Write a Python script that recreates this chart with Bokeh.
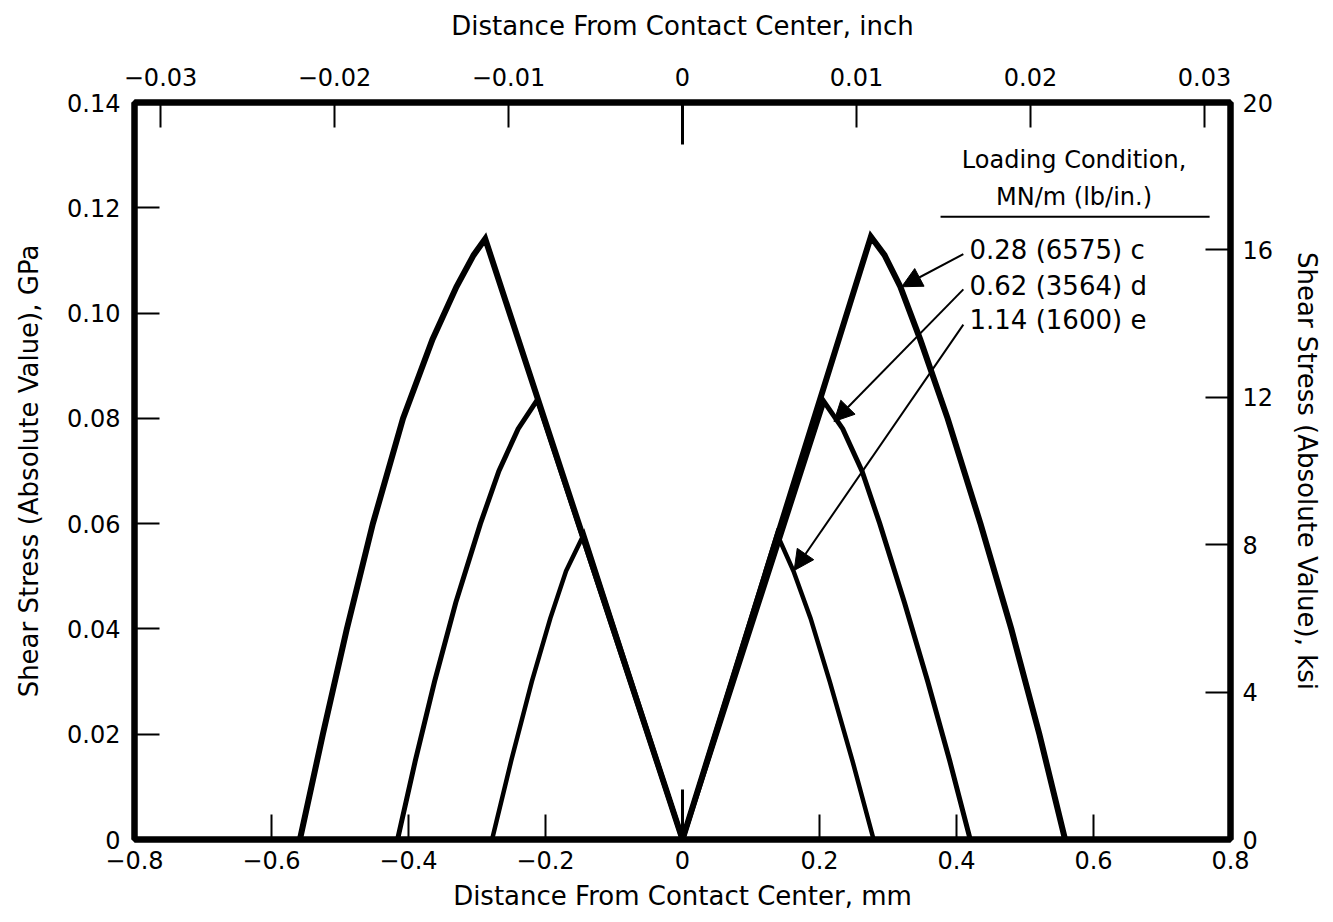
from bokeh.plotting import figure
from bokeh.models import (Range1d, LinearAxis, FixedTicker, Arrow, NormalHead)
from bokeh.core.properties import value
from bokeh.embed import file_html
from bokeh.resources import INLINE

# ---- data (distance in mm, shear stress in GPa) ----
c_x = [-0.5585, -0.525, -0.490, -0.452, -0.408, -0.365, -0.330, -0.305, -0.288, 0.0,
       0.275, 0.295, 0.318, 0.347, 0.387, 0.435, 0.480, 0.521, 0.5585]
c_y = [0.0, 0.020, 0.040, 0.060, 0.080, 0.095, 0.105, 0.111, 0.1141, 0.0,
       0.1145, 0.111, 0.105, 0.095, 0.080, 0.060, 0.040, 0.020, 0.0]

d_x = [-0.416, -0.390, -0.362, -0.331, -0.295, -0.268, -0.240, -0.212, 0.0,
       0.2065, 0.234, 0.262, 0.288, 0.324, 0.358, 0.390, 0.420]
d_y = [0.0, 0.015, 0.030, 0.045, 0.060, 0.070, 0.078, 0.0835, 0.0,
       0.0832, 0.078, 0.070, 0.060, 0.045, 0.030, 0.015, 0.0]

e_x = [-0.278, -0.250, -0.220, -0.193, -0.170, -0.144, 0.0,
       0.138, 0.162, 0.187, 0.215, 0.248, 0.279]
e_y = [0.0, 0.015, 0.030, 0.042, 0.051, 0.058, 0.0,
       0.058, 0.051, 0.042, 0.030, 0.015, 0.0]

series_labels = ["0.28 (6575) c", "0.62 (3564) d", "1.14 (1600) e"]

mm_ticks = [-0.8, -0.6, -0.4, -0.2, 0.0, 0.2, 0.4, 0.6, 0.8]
mm_labels = ["\u22120.8", "\u22120.6", "\u22120.4", "\u22120.2", "0", "0.2", "0.4", "0.6", "0.8"]
gpa_ticks = [0.0, 0.02, 0.04, 0.06, 0.08, 0.10, 0.12, 0.14]
gpa_labels = ["0", "0.02", "0.04", "0.06", "0.08", "0.10", "0.12", "0.14"]
inch_ticks = [-0.03, -0.02, -0.01, 0.0, 0.01, 0.02, 0.03]
inch_labels = ["\u22120.03", "\u22120.02", "\u22120.01", "0", "0.01", "0.02", "0.03"]
ksi_ticks = [0, 4, 8, 12, 16, 20]
ksi_labels = ["0", "4", "8", "12", "16", "20"]

X_MIN, X_MAX = -0.8, 0.8
Y_MIN, Y_MAX = 0.0, 0.14
MM_PER_INCH = 25.4

FONT = "DejaVu Sans"
TICK_FS = "24px"
TITLE_FS = "26px"

p = figure(width=1325, height=918, output_backend="svg", toolbar_location=None,
           x_range=Range1d(X_MIN, X_MAX), y_range=Range1d(Y_MIN, Y_MAX),
           min_border_left=134, min_border_right=91, min_border_top=102,
           min_border_bottom=79, background_fill_color="white",
           border_fill_color="white")
p.grid.visible = False
p.outline_line_color = "black"
p.outline_line_width = 6

p.extra_x_ranges = {"inch": Range1d(X_MIN / MM_PER_INCH, X_MAX / MM_PER_INCH)}
p.extra_y_ranges = {"ksi": Range1d(0, 20)}


def style(ax, ticks, labels, title, standoff, label_standoff):
    ax.ticker = FixedTicker(ticks=ticks)
    ax.major_label_overrides = {t: l for t, l in zip(ticks, labels)}
    ax.axis_label = title
    ax.axis_label_text_font = FONT
    ax.axis_label_text_font_size = TITLE_FS
    ax.axis_label_text_font_style = "normal"
    ax.axis_label_text_color = "black"
    ax.major_label_text_font = FONT
    ax.major_label_text_font_size = TICK_FS
    ax.major_label_text_color = "black"
    ax.major_tick_in = 25
    ax.major_tick_out = 0
    ax.major_tick_line_width = 2
    ax.major_tick_line_color = "black"
    ax.minor_tick_line_color = None
    ax.axis_line_color = "black"
    ax.axis_line_width = 6
    ax.major_label_standoff = standoff
    ax.axis_label_standoff = label_standoff


style(p.xaxis[0], mm_ticks, mm_labels, "Distance From Contact Center, mm", 11, 9)
style(p.yaxis[0], gpa_ticks, gpa_labels, "Shear Stress (Absolute Value), GPa", 14, 20)

top = LinearAxis(x_range_name="inch")
style(top, inch_ticks, inch_labels, "Distance From Contact Center, inch", 17, 24)
p.add_layout(top, "above")

right = LinearAxis(y_range_name="ksi")
style(right, ksi_ticks, ksi_labels, "Shear Stress (Absolute Value), ksi", 12, 16)
p.add_layout(right, "right")

# longer centre ticks
p.segment(x0=[0.0], y0=[Y_MIN], x1=[0.0], y1=[0.0095], line_color="black", line_width=3)
p.segment(x0=[0.0], y0=[Y_MAX], x1=[0.0], y1=[Y_MAX - 0.008], line_color="black", line_width=3)

# curves
for xs, ys, w in [(c_x, c_y, 6), (d_x, d_y, 5), (e_x, e_y, 4.5)]:
    p.line(xs, ys, line_color="black", line_width=w, line_join="miter")

# legend block
p.text(x=[0.5716], y=[0.1290], text=["Loading Condition,"], text_align="center",
       text_baseline="middle", text_font=value(FONT), text_font_size="24px", text_color="black")
p.text(x=[0.5716], y=[0.1220], text=["MN/m (lb/in.)"], text_align="center",
       text_baseline="middle", text_font=value(FONT), text_font_size="24px", text_color="black")
p.segment(x0=[0.3767], y0=[0.1183], x1=[0.7695], y1=[0.1183], line_color="black", line_width=2)

label_y = [0.1119, 0.1052, 0.0986]
p.text(x=[0.419] * 3, y=label_y, text=series_labels, text_align="left",
       text_baseline="middle", text_font=value(FONT), text_font_size="26px", text_color="black")

arrows = [((0.410, 0.1112), (0.320, 0.1050)),
          ((0.410, 0.1045), (0.2211, 0.0794)),
          ((0.410, 0.0978), (0.163, 0.0511))]
for (xs, ys), (xe, ye) in arrows:
    p.add_layout(Arrow(x_start=xs, y_start=ys, x_end=xe, y_end=ye, line_width=2,
                       line_color="black",
                       end=NormalHead(size=20, fill_color="black", line_color="black")))

open("out.html", "w").write(file_html(p, INLINE))
